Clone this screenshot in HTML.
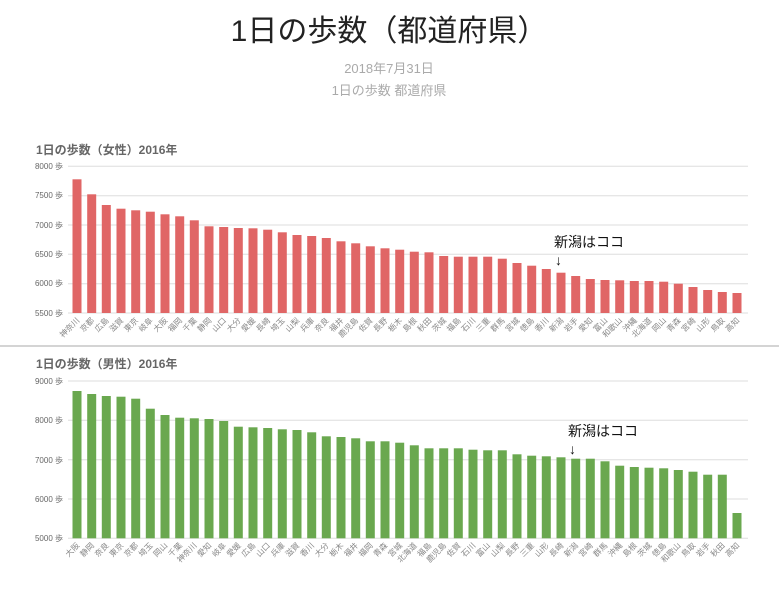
<!DOCTYPE html>
<html><head><meta charset="utf-8"><style>
html,body{margin:0;padding:0;background:#fff;width:779px;height:591px;overflow:hidden}
svg{display:block;font-family:"Liberation Sans","Noto Sans CJK JP",sans-serif}
.yl{font-size:8px;fill:#666;text-anchor:end}
.xl{font-size:8px;fill:#888;text-anchor:end}
.f rect{fill:#e06666}
.m rect{fill:#6aa84f}
.g line{stroke:#ddd;stroke-width:1}
</style></head><body>
<svg width="779" height="591" viewBox="0 0 779 591">
<text x="389" y="41" font-size="30" text-anchor="middle" fill="#222">1日の歩数（都道府県）</text>
<text x="389" y="73" font-size="13" text-anchor="middle" fill="#aaa">2018年7月31日</text>
<text x="389" y="95" font-size="13" text-anchor="middle" fill="#aaa">1日の歩数 都道府県</text>

<text x="36" y="154" font-size="12" font-weight="bold" fill="#666">1日の歩数（女性）2016年</text>
<g class="g">
<line x1="68" y1="166.3" x2="748" y2="166.3"/><line x1="68" y1="195.7" x2="748" y2="195.7"/><line x1="68" y1="225" x2="748" y2="225"/><line x1="68" y1="254.3" x2="748" y2="254.3"/><line x1="68" y1="283.7" x2="748" y2="283.7"/><line x1="68" y1="313" x2="748" y2="313" stroke="#ccc"/>
</g>
<text class="yl" x="63" y="169">8000 歩</text><text class="yl" x="63" y="198">7500 歩</text><text class="yl" x="63" y="228">7000 歩</text><text class="yl" x="63" y="257">6500 歩</text><text class="yl" x="63" y="286">6000 歩</text><text class="yl" x="63" y="316">5500 歩</text>
<g class="f">
<rect x="72.5" y="179.3" width="9" height="133.7"/><rect x="87.2" y="194.3" width="9" height="118.7"/><rect x="101.8" y="205" width="9" height="108"/><rect x="116.5" y="208.7" width="9" height="104.3"/><rect x="131.2" y="210.3" width="9" height="102.7"/><rect x="145.8" y="211.7" width="9" height="101.3"/><rect x="160.5" y="214.3" width="9" height="98.7"/><rect x="175.2" y="216.3" width="9" height="96.7"/><rect x="189.8" y="220.3" width="9" height="92.7"/><rect x="204.5" y="226.3" width="9" height="86.7"/><rect x="219.2" y="227" width="9" height="86"/><rect x="233.8" y="228" width="9" height="85"/><rect x="248.5" y="228.3" width="9" height="84.7"/><rect x="263.2" y="229.7" width="9" height="83.3"/><rect x="277.8" y="232.3" width="9" height="80.7"/><rect x="292.5" y="235" width="9" height="78"/><rect x="307.2" y="236" width="9" height="77"/><rect x="321.8" y="238" width="9" height="75"/><rect x="336.5" y="241.3" width="9" height="71.7"/><rect x="351.2" y="243.3" width="9" height="69.7"/><rect x="365.8" y="246.3" width="9" height="66.7"/><rect x="380.5" y="248.3" width="9" height="64.7"/><rect x="395.2" y="249.7" width="9" height="63.3"/><rect x="409.8" y="251.7" width="9" height="61.3"/><rect x="424.5" y="252.3" width="9" height="60.7"/><rect x="439.2" y="256" width="9" height="57"/><rect x="453.8" y="256.7" width="9" height="56.3"/><rect x="468.5" y="256.7" width="9" height="56.3"/><rect x="483.2" y="256.7" width="9" height="56.3"/><rect x="497.8" y="258.7" width="9" height="54.3"/><rect x="512.5" y="263" width="9" height="50"/><rect x="527.2" y="265.7" width="9" height="47.3"/><rect x="541.8" y="269" width="9" height="44"/><rect x="556.5" y="272.7" width="9" height="40.3"/><rect x="571.2" y="276" width="9" height="37"/><rect x="585.8" y="279" width="9" height="34"/><rect x="600.5" y="280" width="9" height="33"/><rect x="615.2" y="280.3" width="9" height="32.7"/><rect x="629.8" y="281" width="9" height="32"/><rect x="644.5" y="281" width="9" height="32"/><rect x="659.2" y="281.7" width="9" height="31.3"/><rect x="673.8" y="283.7" width="9" height="29.3"/><rect x="688.5" y="287" width="9" height="26"/><rect x="703.2" y="290" width="9" height="23"/><rect x="717.8" y="292" width="9" height="21"/><rect x="732.5" y="293" width="9" height="20"/>
</g>
<g class="xl">
<text transform="translate(80,321) rotate(-45)">神奈川</text><text transform="translate(94.7,321) rotate(-45)">京都</text><text transform="translate(109.3,321) rotate(-45)">広島</text><text transform="translate(124,321) rotate(-45)">滋賀</text><text transform="translate(138.7,321) rotate(-45)">東京</text><text transform="translate(153.3,321) rotate(-45)">岐阜</text><text transform="translate(168,321) rotate(-45)">大阪</text><text transform="translate(182.7,321) rotate(-45)">福岡</text><text transform="translate(197.3,321) rotate(-45)">千葉</text><text transform="translate(212,321) rotate(-45)">静岡</text><text transform="translate(226.7,321) rotate(-45)">山口</text><text transform="translate(241.3,321) rotate(-45)">大分</text><text transform="translate(256,321) rotate(-45)">愛媛</text><text transform="translate(270.7,321) rotate(-45)">長崎</text><text transform="translate(285.3,321) rotate(-45)">埼玉</text><text transform="translate(300,321) rotate(-45)">山梨</text><text transform="translate(314.7,321) rotate(-45)">兵庫</text><text transform="translate(329.3,321) rotate(-45)">奈良</text><text transform="translate(344,321) rotate(-45)">福井</text><text transform="translate(358.7,321) rotate(-45)">鹿児島</text><text transform="translate(373.3,321) rotate(-45)">佐賀</text><text transform="translate(388,321) rotate(-45)">長野</text><text transform="translate(402.7,321) rotate(-45)">栃木</text><text transform="translate(417.3,321) rotate(-45)">島根</text><text transform="translate(432,321) rotate(-45)">秋田</text><text transform="translate(446.7,321) rotate(-45)">茨城</text><text transform="translate(461.3,321) rotate(-45)">福島</text><text transform="translate(476,321) rotate(-45)">石川</text><text transform="translate(490.7,321) rotate(-45)">三重</text><text transform="translate(505.3,321) rotate(-45)">群馬</text><text transform="translate(520,321) rotate(-45)">宮城</text><text transform="translate(534.7,321) rotate(-45)">徳島</text><text transform="translate(549.3,321) rotate(-45)">香川</text><text transform="translate(564,321) rotate(-45)">新潟</text><text transform="translate(578.7,321) rotate(-45)">岩手</text><text transform="translate(593.3,321) rotate(-45)">愛知</text><text transform="translate(608,321) rotate(-45)">富山</text><text transform="translate(622.7,321) rotate(-45)">和歌山</text><text transform="translate(637.3,321) rotate(-45)">沖縄</text><text transform="translate(652,321) rotate(-45)">北海道</text><text transform="translate(666.7,321) rotate(-45)">岡山</text><text transform="translate(681.3,321) rotate(-45)">青森</text><text transform="translate(696,321) rotate(-45)">宮崎</text><text transform="translate(710.7,321) rotate(-45)">山形</text><text transform="translate(725.3,321) rotate(-45)">鳥取</text><text transform="translate(740,321) rotate(-45)">高知</text>
</g>
<text x="554" y="247" font-size="14" fill="#111">新潟はココ</text>
<text x="555" y="265" font-size="14" fill="#111">↓</text>

<line x1="0" y1="346" x2="779" y2="346" stroke="#aaa" stroke-width="1"/>

<text x="36" y="368" font-size="12" font-weight="bold" fill="#666">1日の歩数（男性）2016年</text>
<g class="g">
<line x1="68" y1="381" x2="748" y2="381"/><line x1="68" y1="420.3" x2="748" y2="420.3"/><line x1="68" y1="459.7" x2="748" y2="459.7"/><line x1="68" y1="499" x2="748" y2="499"/><line x1="68" y1="538.3" x2="748" y2="538.3" stroke="#ccc"/>
</g>
<text class="yl" x="63" y="384">9000 歩</text><text class="yl" x="63" y="423">8000 歩</text><text class="yl" x="63" y="463">7000 歩</text><text class="yl" x="63" y="502">6000 歩</text><text class="yl" x="63" y="541">5000 歩</text>
<g class="m">
<rect x="72.5" y="391" width="9" height="147.3"/><rect x="87.2" y="394" width="9" height="144.3"/><rect x="101.8" y="396" width="9" height="142.3"/><rect x="116.5" y="396.7" width="9" height="141.6"/><rect x="131.2" y="398.7" width="9" height="139.6"/><rect x="145.8" y="408.7" width="9" height="129.6"/><rect x="160.5" y="415" width="9" height="123.3"/><rect x="175.2" y="417.7" width="9" height="120.6"/><rect x="189.8" y="418.3" width="9" height="120"/><rect x="204.5" y="419" width="9" height="119.3"/><rect x="219.2" y="421" width="9" height="117.3"/><rect x="233.8" y="426.7" width="9" height="111.6"/><rect x="248.5" y="427.3" width="9" height="111"/><rect x="263.2" y="428" width="9" height="110.3"/><rect x="277.8" y="429.3" width="9" height="109"/><rect x="292.5" y="430" width="9" height="108.3"/><rect x="307.2" y="432.3" width="9" height="106"/><rect x="321.8" y="436.3" width="9" height="102"/><rect x="336.5" y="437" width="9" height="101.3"/><rect x="351.2" y="438.3" width="9" height="100"/><rect x="365.8" y="441.3" width="9" height="97"/><rect x="380.5" y="441.3" width="9" height="97"/><rect x="395.2" y="442.7" width="9" height="95.6"/><rect x="409.8" y="445.3" width="9" height="93"/><rect x="424.5" y="448.3" width="9" height="90"/><rect x="439.2" y="448.3" width="9" height="90"/><rect x="453.8" y="448.3" width="9" height="90"/><rect x="468.5" y="449.7" width="9" height="88.6"/><rect x="483.2" y="450.3" width="9" height="88"/><rect x="497.8" y="450.3" width="9" height="88"/><rect x="512.5" y="454.3" width="9" height="84"/><rect x="527.2" y="455.7" width="9" height="82.6"/><rect x="541.8" y="456.3" width="9" height="82"/><rect x="556.5" y="457.3" width="9" height="81"/><rect x="571.2" y="458.7" width="9" height="79.6"/><rect x="585.8" y="458.7" width="9" height="79.6"/><rect x="600.5" y="461.3" width="9" height="77"/><rect x="615.2" y="465.7" width="9" height="72.6"/><rect x="629.8" y="467" width="9" height="71.3"/><rect x="644.5" y="467.7" width="9" height="70.6"/><rect x="659.2" y="468.3" width="9" height="70"/><rect x="673.8" y="470" width="9" height="68.3"/><rect x="688.5" y="471.7" width="9" height="66.6"/><rect x="703.2" y="474.7" width="9" height="63.6"/><rect x="717.8" y="474.7" width="9" height="63.6"/><rect x="732.5" y="513" width="9" height="25.3"/>
</g>
<g class="xl">
<text transform="translate(80,546) rotate(-45)">大阪</text><text transform="translate(94.7,546) rotate(-45)">静岡</text><text transform="translate(109.3,546) rotate(-45)">奈良</text><text transform="translate(124,546) rotate(-45)">東京</text><text transform="translate(138.7,546) rotate(-45)">京都</text><text transform="translate(153.3,546) rotate(-45)">埼玉</text><text transform="translate(168,546) rotate(-45)">岡山</text><text transform="translate(182.7,546) rotate(-45)">千葉</text><text transform="translate(197.3,546) rotate(-45)">神奈川</text><text transform="translate(212,546) rotate(-45)">愛知</text><text transform="translate(226.7,546) rotate(-45)">岐阜</text><text transform="translate(241.3,546) rotate(-45)">愛媛</text><text transform="translate(256,546) rotate(-45)">広島</text><text transform="translate(270.7,546) rotate(-45)">山口</text><text transform="translate(285.3,546) rotate(-45)">兵庫</text><text transform="translate(300,546) rotate(-45)">滋賀</text><text transform="translate(314.7,546) rotate(-45)">香川</text><text transform="translate(329.3,546) rotate(-45)">大分</text><text transform="translate(344,546) rotate(-45)">栃木</text><text transform="translate(358.7,546) rotate(-45)">福井</text><text transform="translate(373.3,546) rotate(-45)">福岡</text><text transform="translate(388,546) rotate(-45)">青森</text><text transform="translate(402.7,546) rotate(-45)">宮城</text><text transform="translate(417.3,546) rotate(-45)">北海道</text><text transform="translate(432,546) rotate(-45)">福島</text><text transform="translate(446.7,546) rotate(-45)">鹿児島</text><text transform="translate(461.3,546) rotate(-45)">佐賀</text><text transform="translate(476,546) rotate(-45)">石川</text><text transform="translate(490.7,546) rotate(-45)">富山</text><text transform="translate(505.3,546) rotate(-45)">山梨</text><text transform="translate(520,546) rotate(-45)">長野</text><text transform="translate(534.7,546) rotate(-45)">三重</text><text transform="translate(549.3,546) rotate(-45)">山形</text><text transform="translate(564,546) rotate(-45)">長崎</text><text transform="translate(578.7,546) rotate(-45)">新潟</text><text transform="translate(593.3,546) rotate(-45)">宮崎</text><text transform="translate(608,546) rotate(-45)">群馬</text><text transform="translate(622.7,546) rotate(-45)">沖縄</text><text transform="translate(637.3,546) rotate(-45)">島根</text><text transform="translate(652,546) rotate(-45)">茨城</text><text transform="translate(666.7,546) rotate(-45)">徳島</text><text transform="translate(681.3,546) rotate(-45)">和歌山</text><text transform="translate(696,546) rotate(-45)">鳥取</text><text transform="translate(710.7,546) rotate(-45)">岩手</text><text transform="translate(725.3,546) rotate(-45)">秋田</text><text transform="translate(740,546) rotate(-45)">高知</text>
</g>
<text x="568" y="436" font-size="14" fill="#111">新潟はココ</text>
<text x="569" y="454" font-size="14" fill="#111">↓</text>
</svg>
</body></html>
